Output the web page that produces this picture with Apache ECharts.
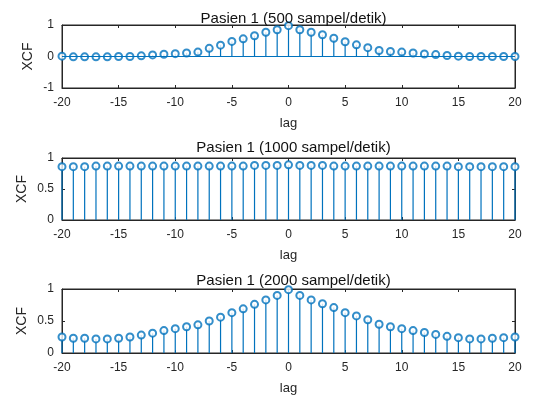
<!DOCTYPE html>
<html>
<head>
<meta charset="utf-8">
<script src="https://cdn.jsdelivr.net/npm/echarts@6/dist/echarts.min.js"></script>
<style>
  html, body { margin: 0; padding: 0; background: #fff; }
  #main { width: 556px; height: 401px; }
</style>
</head>
<body>
<div id="main"></div>
<script>
// lag sumbu x
const lags = [-20, -19, -18, -17, -16, -15, -14, -13, -12, -11, -10, -9, -8, -7, -6, -5, -4, -3, -2, -1,
  0, 1, 2, 3, 4, 5, 6, 7, 8, 9, 10, 11, 12, 13, 14, 15, 16, 17, 18, 19, 20];

// XCF pasien 1, 500 sampel/detik
const xcf500 = [0.01, -0.01, -0.01, -0.01, -0.01, 0.0, 0.0, 0.02, 0.05, 0.07, 0.09, 0.11, 0.14, 0.26, 0.36, 0.48, 0.56, 0.66, 0.77, 0.85,
  0.98, 0.85, 0.77, 0.69, 0.58, 0.47, 0.37, 0.28, 0.19, 0.16, 0.14, 0.11, 0.08, 0.06, 0.03, 0.01, 0.0, 0.0, 0.0, 0.0, 0.0];

// XCF pasien 1, 1000 sampel/detik
const xcf1000 = [0.86, 0.86, 0.86, 0.87, 0.87, 0.87, 0.87, 0.87, 0.87, 0.87, 0.87, 0.87, 0.87, 0.87, 0.87, 0.87, 0.87, 0.88, 0.88, 0.88,
  0.89, 0.88, 0.88, 0.88, 0.87, 0.87, 0.87, 0.87, 0.87, 0.87, 0.87, 0.87, 0.87, 0.87, 0.87, 0.86, 0.86, 0.86, 0.86, 0.86, 0.86];

// XCF pasien 1, 2000 sampel/detik
const xcf2000 = [0.25, 0.23, 0.23, 0.22, 0.22, 0.23, 0.25, 0.28, 0.31, 0.35, 0.38, 0.41, 0.44, 0.5, 0.56, 0.63, 0.69, 0.76, 0.83, 0.9,
  0.99, 0.9, 0.83, 0.77, 0.71, 0.63, 0.58, 0.52, 0.45, 0.41, 0.38, 0.35, 0.32, 0.29, 0.26, 0.24, 0.22, 0.22, 0.23, 0.24, 0.25];

const titles = ['Pasien 1 (500 sampel/detik)', 'Pasien 1 (1000 sampel/detik)', 'Pasien 1 (2000 sampel/detik)'];
const seriesData = [xcf500, xcf1000, xcf2000];

const stemColor = '#0072BD';
const axisColor = '#262626';
const fontFamily = 'Liberation Sans, Arial, sans-serif';

// posisi tiap subplot
const grids = [
  { left: 62, top: 25, width: 453, height: 63 },
  { left: 62, top: 158, width: 453, height: 62 },
  { left: 62, top: 289, width: 453, height: 64 }
];
const yRanges = [
  { min: -1, max: 1, interval: 1 },
  { min: 0, max: 1, interval: 0.5 },
  { min: 0, max: 1, interval: 0.5 }
];
const titleTops = [6, 135, 268];
const yNameGaps = [27, 33, 33];

const chart = echarts.init(document.getElementById('main'));

const option = {
  animation: false,
  title: [],
  grid: [],
  xAxis: [],
  yAxis: [],
  series: []
};

function axisLineStyle() {
  return { show: true, onZero: false, lineStyle: { color: axisColor } };
}
function axisTickStyle() {
  return { show: true, inside: true, length: 3, lineStyle: { color: axisColor } };
}

grids.forEach(function (g, i) {
  option.grid.push({
    left: g.left, top: g.top, width: g.width, height: g.height,
    show: true, borderColor: axisColor, borderWidth: 1, backgroundColor: 'transparent'
  });
  option.title.push({
    text: titles[i],
    left: g.left + g.width / 2,
    textAlign: 'center',
    top: titleTops[i],
    textStyle: { fontFamily: fontFamily, fontSize: 15, fontWeight: 'normal', color: '#111' }
  });

  // sumbu x bawah
  option.xAxis.push({
    type: 'value', gridIndex: i, min: -20, max: 20, interval: 5,
    position: 'bottom',
    name: 'lag', nameLocation: 'middle', nameGap: 29,
    nameTextStyle: { fontFamily: fontFamily, fontSize: 13, color: axisColor },
    axisLine: axisLineStyle(),
    axisTick: axisTickStyle(),
    axisLabel: { fontFamily: fontFamily, fontSize: 12, color: axisColor, margin: 9 },
    splitLine: { show: false }
  });
  // sumbu x atas (cermin)
  option.xAxis.push({
    type: 'value', gridIndex: i, min: -20, max: 20, interval: 5,
    position: 'top',
    axisLine: axisLineStyle(),
    axisTick: axisTickStyle(),
    axisLabel: { show: false },
    splitLine: { show: false }
  });
  // sumbu y kiri
  option.yAxis.push({
    type: 'value', gridIndex: i,
    min: yRanges[i].min, max: yRanges[i].max, interval: yRanges[i].interval,
    position: 'left',
    name: 'XCF', nameLocation: 'middle', nameGap: yNameGaps[i],
    nameMoveOverlap: false,
    nameTextStyle: { fontFamily: fontFamily, fontSize: 14, color: axisColor },
    axisLine: axisLineStyle(),
    axisTick: axisTickStyle(),
    axisLabel: { fontFamily: fontFamily, fontSize: 12, color: axisColor, margin: 8 },
    splitLine: { show: false }
  });
  // sumbu y kanan (cermin)
  option.yAxis.push({
    type: 'value', gridIndex: i,
    min: yRanges[i].min, max: yRanges[i].max, interval: yRanges[i].interval,
    position: 'right',
    axisLine: axisLineStyle(),
    axisTick: axisTickStyle(),
    axisLabel: { show: false },
    splitLine: { show: false }
  });

  const pts = lags.map(function (x, k) { return [x, seriesData[i][k]]; });

  // batang stem
  option.series.push({
    type: 'custom',
    xAxisIndex: i * 2, yAxisIndex: i * 2,
    data: pts,
    renderItem: function (params, api) {
      const p0 = api.coord([api.value(0), 0]);
      const p1 = api.coord([api.value(0), api.value(1)]);
      return {
        type: 'line',
        shape: { x1: p0[0], y1: p0[1], x2: p1[0], y2: p1[1] },
        style: { stroke: stemColor, lineWidth: 1.2 }
      };
    },
    markLine: i === 0 ? {
      silent: true, symbol: 'none', label: { show: false },
      lineStyle: { color: stemColor, type: 'solid', width: 1 },
      data: [{ yAxis: 0 }]
    } : undefined,
    z: 2
  });
  // penanda lingkaran
  option.series.push({
    type: 'scatter',
    xAxisIndex: i * 2, yAxisIndex: i * 2,
    data: pts,
    symbol: 'emptyCircle',
    symbolSize: 7,
    itemStyle: { color: stemColor, borderColor: stemColor, borderWidth: 1.2 },
    z: 3
  });
});

chart.setOption(option);
</script>
</body>
</html>
